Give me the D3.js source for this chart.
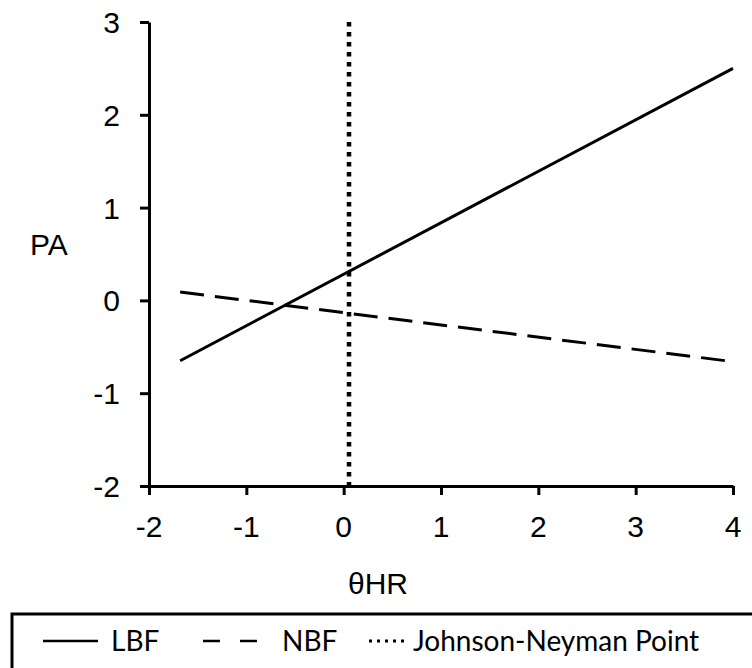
<!DOCTYPE html>
<html>
<head>
<meta charset="utf-8">
<script src="https://cdn.jsdelivr.net/npm/d3@7"></script>
<style>
  body { margin: 0; background: #fff; }
  svg { display: block; }
  .tick-label { font-family: "Liberation Sans", Arial, sans-serif; font-size: 30px; fill: #000; }
  .legend-text { font-family: Lato, "Noto Sans", sans-serif; font-size: 28px; fill: #000; }
</style>
</head>
<body>
<svg width="752" height="668"></svg>
<script>
// Chart data
const xTicks = [-2, -1, 0, 1, 2, 3, 4];
const yTicks = [-2, -1, 0, 1, 2, 3];
const xValues = [-1.68, 4];
const lbfValues = [-0.65, 2.5];
const nbfValues = [0.09, -0.66];
const jnPoint = 0.055;
const seriesNames = ["LBF", "NBF", "Johnson-Neyman Point"];

const svg = d3.select("svg");

const x = d3.scaleLinear().domain([-2, 4]).range([149, 733]);
const y = d3.scaleLinear().domain([-2, 3]).range([486, 22]);

// Axes
const xAxis = svg.append("g")
    .attr("transform", `translate(0,${y(-2)})`)
    .call(d3.axisBottom(x).tickValues(xTicks).tickSize(9).tickSizeOuter(0).tickFormat(""));
const yAxis = svg.append("g")
    .attr("transform", `translate(${x(-2)},0)`)
    .call(d3.axisLeft(y).tickValues(yTicks).tickSize(9).tickSizeOuter(0).tickFormat(""));

[xAxis, yAxis].forEach(g => {
    g.selectAll("path, line").attr("stroke", "#000").attr("stroke-width", 3);
});

// Tick labels
svg.selectAll(".x-label")
    .data(xTicks)
    .enter().append("text")
    .attr("class", "tick-label")
    .attr("x", d => x(d))
    .attr("y", 537)
    .attr("text-anchor", "middle")
    .text(d => d);

svg.selectAll(".y-label")
    .data(yTicks)
    .enter().append("text")
    .attr("class", "tick-label")
    .attr("x", 120)
    .attr("y", d => y(d) + 11)
    .attr("text-anchor", "end")
    .text(d => d);

// Axis titles
svg.append("text").attr("class", "tick-label")
    .attr("x", 30).attr("y", 255).text("PA");
svg.append("text").attr("class", "tick-label")
    .attr("x", 378).attr("y", 594).attr("text-anchor", "middle").text("\u03b8HR");

// Lines
const line = d3.line().x(d => x(d[0])).y(d => y(d[1]));

svg.append("path")
    .datum(d3.zip(xValues, lbfValues))
    .attr("d", line)
    .attr("fill", "none")
    .attr("stroke", "#000")
    .attr("stroke-width", 3);

svg.append("path")
    .datum(d3.zip(xValues, nbfValues))
    .attr("d", line)
    .attr("fill", "none")
    .attr("stroke", "#000")
    .attr("stroke-width", 3)
    .attr("stroke-dasharray", "24,11");

svg.append("line")
    .attr("x1", x(jnPoint)).attr("x2", x(jnPoint))
    .attr("y1", y(3)).attr("y2", y(-2))
    .attr("stroke", "#000")
    .attr("stroke-width", 4.5)
    .attr("stroke-dasharray", "4.5,5.5");

// Legend
svg.append("rect")
    .attr("x", 12).attr("y", 614)
    .attr("width", 760).attr("height", 80)
    .attr("fill", "none")
    .attr("stroke", "#000")
    .attr("stroke-width", 3);

const legendItems = [
    {name: seriesNames[0], x1: 43, x2: 98, dash: null, width: 2.4, textX: 111},
    {name: seriesNames[1], x1: 203, x2: 258, dash: "17,20", width: 2.4, textX: 282},
    {name: seriesNames[2], x1: 369, x2: 407, dash: "3,5", width: 3, textX: 413}
];

legendItems.forEach(item => {
    svg.append("line")
        .attr("x1", item.x1).attr("x2", item.x2)
        .attr("y1", 641).attr("y2", 641)
        .attr("stroke", "#000")
        .attr("stroke-width", item.width)
        .attr("stroke-dasharray", item.dash);
    svg.append("text")
        .attr("class", "legend-text")
        .attr("x", item.textX)
        .attr("y", 651)
        .text(item.name);
});
</script>
</body>
</html>
